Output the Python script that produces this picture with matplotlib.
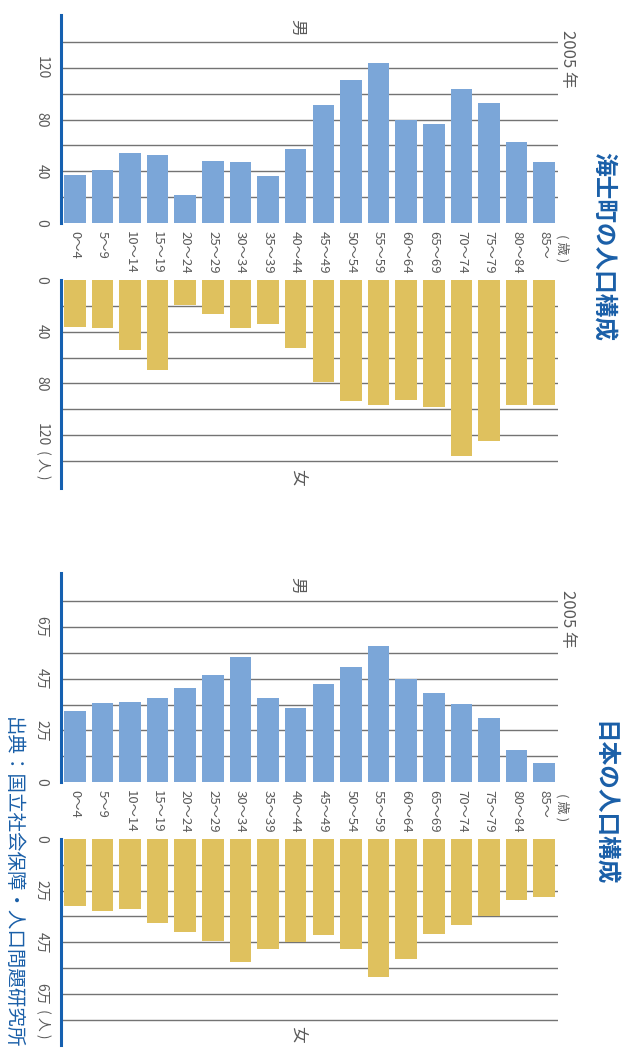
import matplotlib
matplotlib.use("Agg")
import matplotlib.pyplot as plt

plt.rcParams['font.family'] = ['Noto Sans CJK JP', 'DejaVu Sans']

W, H = 623, 1048

ages = ['0〜4', '5〜9', '10〜14', '15〜19', '20〜24', '25〜29', '30〜34', '35〜39', '40〜44',
        '45〜49', '50〜54', '55〜59', '60〜64', '65〜69', '70〜74', '75〜79', '80〜84', '85〜']

# 海士町 (persons)
amaMale = [37, 41, 54, 53, 22, 48, 47, 36, 57, 91, 111, 124, 80, 77, 104, 93, 63, 47]
amaFemale = [36, 37, 54, 70, 19, 26, 37, 34, 53, 79, 94, 97, 93, 98, 136, 125, 97, 97]
amaTicks = [0, 20, 40, 60, 80, 100, 120, 140]
amaTickLabels = ['0', '', '40', '', '80', '', '120', '']

# 日本 (万人)
jpMale = [2.74, 3.05, 3.09, 3.24, 3.63, 4.13, 4.83, 3.24, 2.86, 3.79, 4.45, 5.26, 3.99, 3.44, 3.01, 2.47, 1.23, 0.72]
jpFemale = [2.60, 2.78, 2.70, 3.24, 3.59, 3.94, 4.75, 4.25, 3.99, 3.71, 4.25, 5.34, 4.64, 3.67, 3.32, 2.98, 2.35, 2.24]
jpTicks = [0, 1, 2, 3, 4, 5, 6, 7]
jpTickLabels = ['0', '', '2万', '', '4万', '', '6万', '']

BLUE_BAR = '#7ba6d8'
YELLOW_BAR = '#dfc15e'
AXIS_BLUE = '#1560b0'
TITLE_BLUE = '#1a5fa8'
GRID = '#737373'
TEXT_GRAY = '#5a5a5a'

fig = plt.figure(figsize=(W / 100, H / 100), dpi=100)


def rect(x0, y0, x1, y1):
  return [x0 / W, 1 - y1 / H, (x1 - x0) / W, (y1 - y0) / H]


def panel(box, values, color, ymax, ticks, tickLabels, female, sexLabel, unitAfter=None):
  ax = fig.add_axes(rect(*box))
  xs = list(range(len(values)))
  ax.bar(xs, values, width=0.78, color=color, zorder=3)
  ax.set_xlim(-0.5, len(values) - 0.5)
  if female:
    ax.set_ylim(ymax, 0)
  else:
    ax.set_ylim(0, ymax)
  for t in ticks[1:]:
    ax.axhline(t, color=GRID, lw=1.0, zorder=1)
  ax.set_yticks(ticks)
  ax.set_yticklabels(tickLabels, rotation=270, color=TEXT_GRAY, fontsize=10, va='center')
  ax.tick_params(axis='y', length=0, pad=9)
  for s in ['top', 'right', 'bottom']:
    ax.spines[s].set_visible(False)
  ax.spines['left'].set_color(AXIS_BLUE)
  ax.spines['left'].set_linewidth(2.2)
  if female:
    ax.set_xticks([])
    ax.text(0.475, 0.05, sexLabel, transform=ax.transAxes, rotation=270,
            ha='center', va='center', fontsize=12, color=TEXT_GRAY)
    ax.text(-18 / 497, unitAfter, ' ( 人 )', transform=ax.get_yaxis_transform(), rotation=270,
            ha='center', va='top', fontsize=10, color=TEXT_GRAY, clip_on=False)
  else:
    ax.set_xticks(xs)
    ax.set_xticklabels(ages, rotation=270, color=TEXT_GRAY, fontsize=9.5, va='top', ha='center')
    ax.tick_params(axis='x', length=0, pad=6)
    ax.text(0.475, 0.94, sexLabel, transform=ax.transAxes, rotation=270,
            ha='center', va='center', fontsize=12, color=TEXT_GRAY)
    ax.annotate('( 歳 )', xy=(17.65, 0), xytext=(0, -8), textcoords='offset points',
                rotation=270, ha='center', va='top', fontsize=9.5, color=TEXT_GRAY,
                annotation_clip=False)
  return ax


# 海士町
panel((61, 15, 558, 223), amaMale, BLUE_BAR, 161, amaTicks, amaTickLabels, False, '男')
panel((61, 280, 558, 488), amaFemale, YELLOW_BAR, 161, amaTicks, amaTickLabels, True, '女', 129)
fig.text(568 / W, 1 - 30 / H, '2005 年', rotation=270, ha='center', va='top', fontsize=12, color=TEXT_GRAY)
fig.text(603 / W, 1 - 247 / H, '海士町の人口構成', rotation=270, ha='center', va='center',
         fontsize=17, fontweight='bold', color=TITLE_BLUE)

# 日本
panel((61, 573, 558, 782), jpMale, BLUE_BAR, 8.1, jpTicks, jpTickLabels, False, '男')
panel((61, 839, 558, 1045), jpFemale, YELLOW_BAR, 7.98, jpTicks, jpTickLabels, True, '女', 6.45)
fig.text(568 / W, 1 - 590 / H, '2005 年', rotation=270, ha='center', va='top', fontsize=12, color=TEXT_GRAY)
fig.text(603 / W, 1 - 804 / H, '日本の人口構成', rotation=270, ha='center', va='center',
         fontsize=17, fontweight='bold', color=TITLE_BLUE)

fig.text(12 / W, 1 - 717 / H, '出典：国立社会保障・人口問題研究所', rotation=270, ha='center', va='top',
         fontsize=14, color=TITLE_BLUE)

fig.savefig('out.png', dpi=100)
